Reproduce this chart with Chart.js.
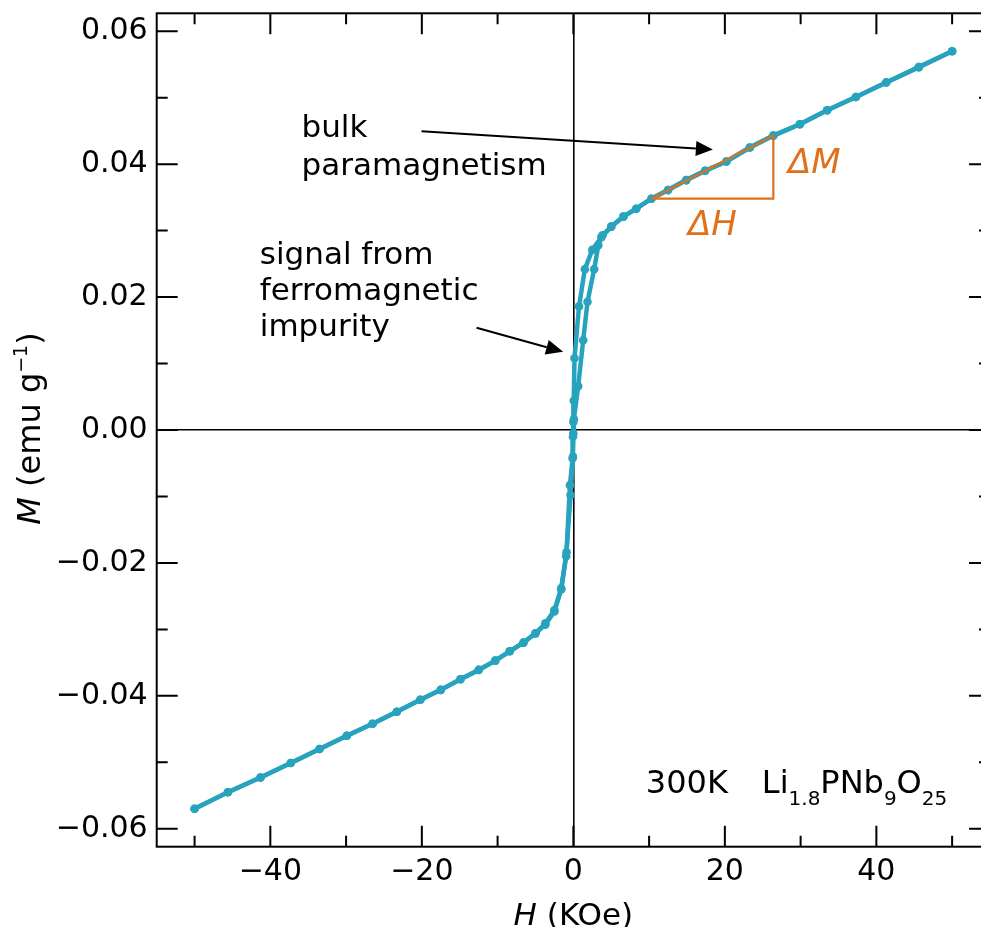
<!DOCTYPE html>
<html><head><meta charset="utf-8">
<script src="https://cdn.jsdelivr.net/npm/chart.js@4/dist/chart.umd.min.js"></script>
<style>html,body{margin:0;padding:0;overflow:hidden;background:#fff}#wrap{width:1000px;height:927px;position:absolute;left:0;top:0}canvas{display:block}</style>
</head><body>
<div id="wrap"><canvas id="c" width="1000" height="927"></canvas></div>
<script>
// ---- data (H in KOe, M in emu/g) ----
const hDown = [50,45.6,41.3,37.3,33.5,29.9,26.4,23.3,20.2,17.4,14.9,12.5,10.3,8.3,6.6,5.0,3.7,2.5,1.52,0.75,0.15,0.05,0.0,-0.05,-0.1,-0.45,-0.9,-1.6,-2.5,-3.7,-5.0,-6.6,-8.4,-10.3,-12.5,-14.9,-17.5,-20.2,-23.3,-26.5,-29.9,-33.5,-37.3,-41.3,-45.6,-50];
const mDown = [0.0570,0.0546,0.0523,0.0501,0.0481,0.0460,0.0443,0.0425,0.0404,0.0390,0.0376,0.0361,0.0348,0.0333,0.0321,0.0306,0.0290,0.0271,0.0242,0.0186,0.0108,0.0044,0.0012,-0.0010,-0.0043,-0.0083,-0.0184,-0.0238,-0.0271,-0.0291,-0.0306,-0.0320,-0.0333,-0.0347,-0.0361,-0.0375,-0.0391,-0.0406,-0.0424,-0.0442,-0.0460,-0.0480,-0.0501,-0.0523,-0.0545,-0.0570];
const hUp = [-50,-45.6,-41.3,-37.3,-33.5,-29.9,-26.5,-23.3,-20.2,-17.5,-14.9,-12.5,-10.3,-8.4,-6.6,-5.0,-3.7,-2.5,-1.6,-0.95,-0.37,-0.05,0.0,0.07,0.64,1.3,1.87,2.75,3.3,3.85,5.0,6.6,8.3,10.3,12.5,14.9,17.4,20.2,23.3,26.4,29.9,33.5,37.3,41.3,45.6,50];
const mUp = [-0.0570,-0.0545,-0.0523,-0.0501,-0.0480,-0.0460,-0.0442,-0.0424,-0.0406,-0.0391,-0.0375,-0.0361,-0.0347,-0.0333,-0.0320,-0.0306,-0.0293,-0.0273,-0.0240,-0.0190,-0.0098,-0.0040,-0.0005,0.0016,0.0066,0.0135,0.0193,0.0242,0.0278,0.0293,0.0306,0.0321,0.0333,0.0348,0.0361,0.0376,0.0390,0.0404,0.0425,0.0443,0.0460,0.0481,0.0501,0.0523,0.0546,0.0570];
// slope triangle (Delta H, Delta M)
const triH = [10.3, 26.4, 26.4, 10.3];
const triM = [0.0348, 0.0443, 0.0348, 0.0348];
// axes
const xTicks = [-50,-40,-30,-20,-10,0,10,20,30,40,50];
const xLabels = ['','\u221240','','\u221220','','0','','20','','40',''];
const yTicks = [-0.06,-0.05,-0.04,-0.03,-0.02,-0.01,0,0.01,0.02,0.03,0.04,0.05,0.06];
const yLabels = ['\u22120.06','','\u22120.04','','\u22120.02','','0.00','','0.02','','0.04','','0.06'];
const xRange = [-55, 55];
const yRange = [-0.0627, 0.0627];

const TEAL = '#28a3bd';
const ORANGE = '#e0701c';
const FONT = '"DejaVu Sans", sans-serif';

const pts = (hs, ms) => hs.map((h, i) => ({x: h, y: ms[i]}));

function rich(ctx, parts, x, y, align) {
  let w = 0;
  parts.forEach(p => { ctx.font = p[1]; w += ctx.measureText(p[0]).width; });
  let cx = align === 'center' ? x - w / 2 : x;
  parts.forEach(p => { ctx.font = p[1]; ctx.fillText(p[0], cx, y + (p[2] || 0)); cx += ctx.measureText(p[0]).width; });
}
function arrow(ctx, x1, y1, x2, y2) {
  const a = Math.atan2(y2 - y1, x2 - x1), L = 17, W = 7.5;
  const bx = x2 - L * Math.cos(a), by = y2 - L * Math.sin(a);
  ctx.beginPath(); ctx.moveTo(x1, y1); ctx.lineTo(bx, by); ctx.lineWidth = 2; ctx.strokeStyle = '#000'; ctx.stroke();
  ctx.beginPath(); ctx.moveTo(x2, y2);
  ctx.lineTo(bx + W * Math.sin(a), by - W * Math.cos(a));
  ctx.lineTo(bx - W * Math.sin(a), by + W * Math.cos(a));
  ctx.closePath(); ctx.fillStyle = '#000'; ctx.fill();
}

const overlay = {
  id: 'overlay',
  afterDraw(chart) {
    const {ctx, chartArea: a, scales: {x, y}} = chart;
    const P = (h, m) => [x.getPixelForValue(h), y.getPixelForValue(m)];
    ctx.save();
    // frame
    ctx.strokeStyle = '#000'; ctx.lineWidth = 2;
    ctx.strokeRect(a.left, a.top, a.right - a.left, a.bottom - a.top);
    // inward ticks on four sides
    ctx.beginPath();
    xTicks.forEach((v, i) => {
      const L = xLabels[i] ? 21 : 11, X = x.getPixelForValue(v);
      ctx.moveTo(X, a.bottom); ctx.lineTo(X, a.bottom - L);
      ctx.moveTo(X, a.top); ctx.lineTo(X, a.top + L);
    });
    yTicks.forEach((v, i) => {
      const L = yLabels[i] ? 21 : 11, Y = y.getPixelForValue(v);
      ctx.moveTo(a.left, Y); ctx.lineTo(a.left + L, Y);
      ctx.moveTo(a.right, Y); ctx.lineTo(a.right - L, Y);
    });
    ctx.stroke();

    ctx.fillStyle = '#000'; ctx.textBaseline = 'alphabetic'; ctx.textAlign = 'left';
    // axis titles
    rich(ctx, [['H', 'italic 31px ' + FONT], [' (KOe)', '31px ' + FONT]], x.getPixelForValue(0), 925, 'center');
    ctx.save();
    ctx.translate(40, y.getPixelForValue(0) - 1.5);
    ctx.rotate(-Math.PI / 2);
    rich(ctx, [['M', 'italic 32px ' + FONT], [' (emu g', '32px ' + FONT], ['\u22121', '19px ' + FONT, -13], [')', '32px ' + FONT]], 0, 0, 'center');
    ctx.restore();

    // annotations
    const f31 = '31px ' + FONT;
    let p = P(-35.88, 0.04406); rich(ctx, [['bulk', f31]], p[0], p[1]);
    p = P(-35.88, 0.03835); rich(ctx, [['paramagnetism', f31]], p[0], p[1]);
    p = P(-41.39, 0.02496); rich(ctx, [['signal from', f31]], p[0], p[1]);
    p = P(-41.39, 0.01955); rich(ctx, [['ferromagnetic', f31]], p[0], p[1]);
    p = P(-41.39, 0.01414); rich(ctx, [['impurity', f31]], p[0], p[1]);
    let s = P(-20.04, 0.04496), t = P(18.42, 0.04221); arrow(ctx, s[0], s[1], t[0], t[1]);
    s = P(-12.78, 0.01538); t = P(-1.35, 0.01177); arrow(ctx, s[0], s[1], t[0], t[1]);

    // Delta labels
    ctx.fillStyle = ORANGE;
    p = P(28.32, 0.0386); rich(ctx, [['\u0394M', 'italic 34px ' + FONT]], p[0], p[1]);
    p = P(15.12, 0.02932); rich(ctx, [['\u0394H', 'italic 34px ' + FONT]], p[0], p[1]);

    // sample label
    ctx.fillStyle = '#000';
    const f32 = '32px ' + FONT, f20 = '20px ' + FONT;
    p = P(9.57, -0.05459); rich(ctx, [['300K', f32]], p[0], p[1]);
    p = P(24.88, -0.05459);
    rich(ctx, [['Li', f32], ['1.8', f20, 12], ['PNb', f32], ['9', f20, 12], ['O', f32], ['25', f20, 12]], p[0], p[1]);
    ctx.restore();
  }
};

new Chart(document.getElementById('c'), {
  type: 'line',
  data: {
    datasets: [
      {label: 'slope', data: pts(triH, triM), borderColor: ORANGE, borderWidth: 2.2, pointRadius: 0, fill: false, tension: 0},
      {label: 'down', data: pts(hDown, mDown), borderColor: TEAL, backgroundColor: TEAL, borderWidth: 4.5, pointRadius: 4.3, pointBorderWidth: 0, pointBackgroundColor: TEAL, fill: false, tension: 0},
      {label: 'up', data: pts(hUp, mUp), borderColor: TEAL, backgroundColor: TEAL, borderWidth: 4.5, pointRadius: 4.3, pointBorderWidth: 0, pointBackgroundColor: TEAL, fill: false, tension: 0}
    ]
  },
  options: {
    responsive: false, animation: false,
    layout: {padding: {top: 13.3, right: 10, left: 0, bottom: 0}},
    plugins: {legend: {display: false}, tooltip: {enabled: false}},
    scales: {
      x: {
        type: 'linear', min: xRange[0], max: xRange[1],
        afterBuildTicks: s => { s.ticks = xTicks.map(v => ({value: v})); },
        afterFit: s => { s.height = 80.3; s.paddingLeft = 0; s.paddingRight = 0; },
        border: {display: false},
        grid: {drawTicks: false, lineWidth: 1.6, color: c => (c.tick && c.tick.value === 0) ? '#000' : 'rgba(0,0,0,0)'},
        ticks: {autoSkip: false, maxRotation: 0, padding: 8, color: '#000', font: {family: 'DejaVu Sans', size: 30},
          callback: (v, i) => xLabels[i]}
      },
      y: {
        type: 'linear', min: yRange[0], max: yRange[1],
        afterBuildTicks: s => { s.ticks = yTicks.map(v => ({value: v})); },
        afterFit: s => { s.width = 156.7; s.paddingTop = 0; s.paddingBottom = 0; },
        border: {display: false},
        grid: {drawTicks: false, lineWidth: 1.6, color: c => (c.tick && c.tick.value === 0) ? '#000' : 'rgba(0,0,0,0)'},
        ticks: {autoSkip: false, padding: 9, color: '#000', font: {family: 'DejaVu Sans', size: 30},
          callback: (v, i) => yLabels[i]}
      }
    }
  },
  plugins: [overlay]
});
</script>
</body></html>
